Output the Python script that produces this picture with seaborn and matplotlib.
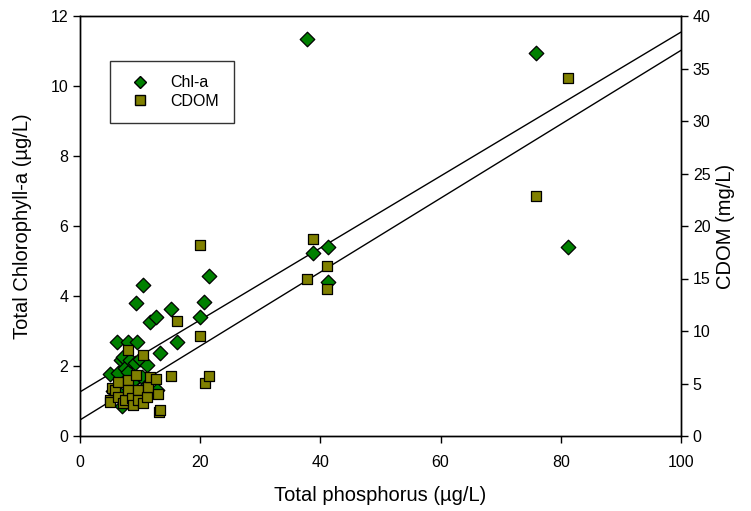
import numpy as np
import pandas as pd
import matplotlib
matplotlib.use("Agg")
import matplotlib.pyplot as plt
from matplotlib.lines import Line2D
import seaborn as sns

# Chl-a points (total phosphorus ug/L, chlorophyll-a ug/L)
tp_chl = [5.0, 5.5, 6.1, 6.3, 6.6, 6.9, 7.0, 7.2, 7.5, 8.0, 8.05, 8.3, 8.6,
          9.2, 9.4, 9.55, 9.8, 10.0, 10.3, 10.55, 10.8, 11.2, 11.7, 12.7,
          12.8, 13.3, 15.2, 16.2, 19.9, 20.7, 21.5, 37.8, 38.8, 41.2, 41.2,
          75.9, 81.2]
chl = [1.78, 1.30, 2.69, 1.80, 1.20, 2.17, 0.85, 2.26, 1.95, 1.83, 2.69, 2.17,
       1.55, 2.08, 3.79, 2.69, 1.25, 2.20, 1.70, 4.31, 1.40, 2.03, 3.27, 3.41,
       1.31, 2.37, 3.63, 2.70, 3.41, 3.82, 4.58, 11.35, 5.24, 5.41, 4.41,
       10.93, 5.40]

# CDOM points (total phosphorus ug/L, CDOM mg/L)
tp_cdom = [5.0, 5.0, 5.3, 5.8, 6.3, 6.4, 7.2, 7.5, 8.0, 8.0, 8.05, 8.7, 8.8,
           9.4, 9.7, 9.7, 10.4, 10.5, 11.2, 11.3, 11.7, 12.7, 12.9, 13.2,
           13.3, 15.2, 16.1, 19.9, 20.0, 20.8, 21.5, 37.8, 38.8, 41.1, 41.1,
           75.9, 81.2]
cdom = [3.43, 3.24, 4.57, 4.38, 3.71, 5.17, 3.14, 3.43, 5.33, 4.38, 8.19, 3.60,
        2.95, 5.80, 4.38, 3.43, 7.71, 3.14, 3.74, 4.67, 5.65, 5.40, 3.97, 2.30,
        2.48, 5.74, 10.95, 9.55, 18.15, 5.02, 5.74, 15.0, 18.73, 16.2, 13.97,
        22.86, 34.1]

# linear fits (intercept, slope)
chl_fit = (1.26, 0.1028)
cdom_fit = (1.53, 0.352)

chl_df = pd.DataFrame({"tp": tp_chl, "val": chl})
cdom_df = pd.DataFrame({"tp": tp_cdom, "val": cdom})

sns.set_style("ticks")
plt.rcParams["font.family"] = ["Liberation Sans", "DejaVu Sans"]
plt.rcParams["text.color"] = "black"
plt.rcParams["axes.labelcolor"] = "black"

fig, ax = plt.subplots(figsize=(7.51, 5.11), dpi=100)
fig.subplots_adjust(left=80/751, right=681/751, bottom=1-436/511, top=1-16/511)
ax2 = ax.twinx()

ax.set_xlim(0, 100)
ax.set_ylim(0, 12)
ax2.set_ylim(0, 40)
scale = 12 / 40

# regression lines
xs = np.array(ax.get_xlim())
ax.plot(xs, chl_fit[0] + chl_fit[1] * xs, color="black", lw=1, zorder=1)
ax.plot(xs, (cdom_fit[0] + cdom_fit[1] * xs) * scale, color="black", lw=1, zorder=1)

sns.scatterplot(data=chl_df, x="tp", y="val", ax=ax, marker="D", s=55,
                color="#008000", edgecolor="black", linewidth=0.9, zorder=3)
sns.scatterplot(data=cdom_df, x="tp", y="val", ax=ax2, marker="s", s=62,
                color="#808000", edgecolor="black", linewidth=0.9, zorder=3)

ax.set_xticks(range(0, 101, 20))
ax.set_yticks(range(0, 13, 2))
ax2.set_yticks(range(0, 41, 5))

for a in (ax, ax2):
    for sp in a.spines.values():
        sp.set_visible(True)
        sp.set_linewidth(1)
        sp.set_color("black")
    a.tick_params(direction="out", length=5, width=1, labelsize=11.5, colors="black")
ax.tick_params(axis="x", pad=8.5)

ax.set_xlabel("Total phosphorus (µg/L)", fontsize=14.5, labelpad=12)
ax.set_ylabel("Total Chlorophyll-a (µg/L)", fontsize=14.5, labelpad=13)
ax2.set_ylabel("CDOM (mg/L)", fontsize=14.5, labelpad=4)

handles = [
    Line2D([], [], marker="D", color="none", markerfacecolor="#008000",
           markeredgecolor="black", markersize=6.5, label="Chl-a"),
    Line2D([], [], marker="s", color="none", markerfacecolor="#808000",
           markeredgecolor="black", markersize=6.5, label="CDOM"),
]
leg = ax2.legend(handles=handles, loc="upper left", bbox_to_anchor=(0.05, 0.893),
                 fontsize=11.5, frameon=True, fancybox=False, borderpad=0.9,
                 handletextpad=0.9, labelspacing=0.2, borderaxespad=0)
leg.get_frame().set_edgecolor("black")
leg.get_frame().set_linewidth(1)

fig.savefig("out.png", dpi=100)
